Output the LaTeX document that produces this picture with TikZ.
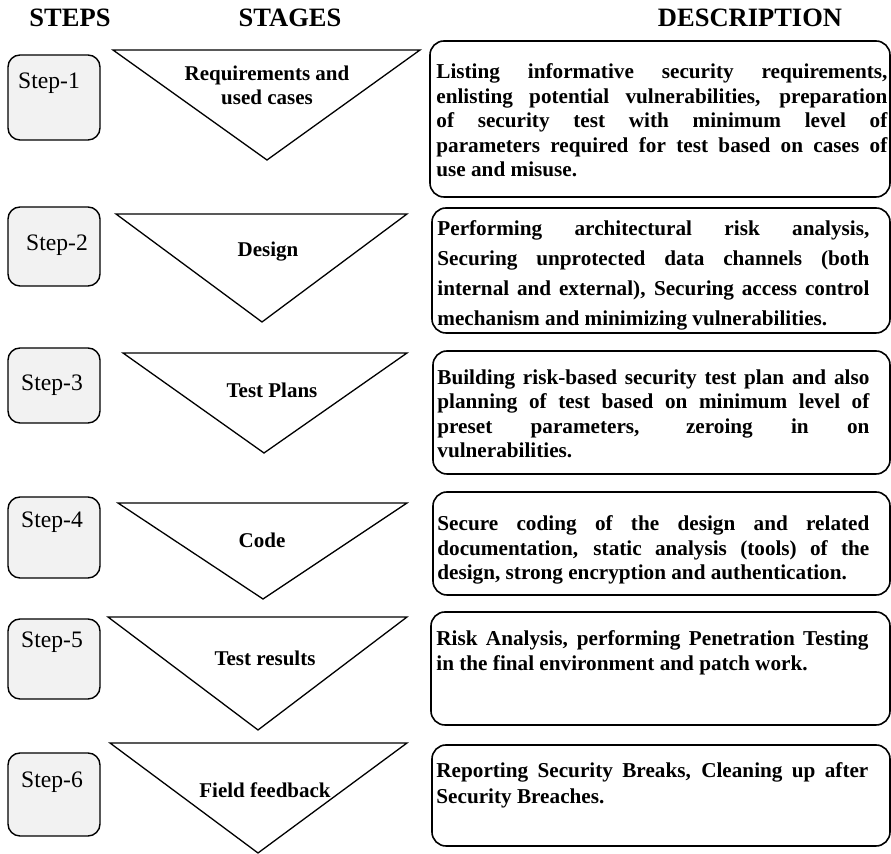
\documentclass[tikz,border=0pt]{standalone}
\usepackage{fontspec}
\setmainfont{Liberation Serif}
\definecolor{stepgray}{RGB}{242,242,242}
\hyphenpenalty=10000
\tolerance=9999
\begin{document}
\begin{tikzpicture}[x=0.5pt,y=-0.5pt,
        stepbox/.style={draw,line width=0.7pt,rounded corners=6pt,fill=stepgray},
        stagetri/.style={draw,line width=0.65pt},
        descbox/.style={draw,line width=0.8pt,rounded corners=7pt},
        heading/.style={font=\fontsize{13.25}{15}\selectfont\bfseries},
        steplabel/.style={font=\fontsize{11.8}{13}\selectfont},
        stagelabel/.style={font=\fontsize{10.5}{12}\selectfont\bfseries,align=center,inner sep=0pt},
        desctext/.style={font=\fontsize{10.6}{12.2}\selectfont\bfseries,align=justify,
            text width=216pt,inner sep=0pt,anchor=north west}]
        \useasboundingbox (0,0) rectangle (891,854);

        %% HEADINGS
        \node[heading] (hsteps) at (70,18) {STEPS};
        \node[heading] (hstages) at (290,18) {STAGES};
        \node[heading] (hdesc) at (750,18) {DESCRIPTION};

        %% STEP (1)
        % Box
        \draw[stepbox] (8,55) rectangle (100,140);
        \node[steplabel] (step1) at (49,83) {Step-1};
        % Stage
        \draw[stagetri] (113,50) -- (420,50) -- (267,160) -- cycle;
        \node[stagelabel] (stage1) at (267,85) {Requirements and\\used cases};
        % Description
        \draw[descbox] (430,41) rectangle (890,197);
        \node[desctext,text width=225.5pt] (desc1) at (436,63.5) {Listing informative security requirements,\linebreak
            enlisting potential vulnerabilities, preparation\linebreak
            of security test with minimum level of\linebreak
            parameters required for test based on cases of\linebreak
            use and misuse.};

        %% STEP (2)
        \draw[stepbox] (8,207) rectangle (100,286);
        \node[steplabel] (step2) at (57,245) {Step-2};
        % Stage
        \draw[stagetri] (116,214) -- (407,214) -- (262,322) -- cycle;
        \node[stagelabel] (stage2) at (268,252) {Design};
        % Description
        \draw[descbox] (432,208) rectangle (890,333);
        \node[desctext,font=\fontsize{10.6}{15}\selectfont\bfseries] (desc2) at (437,220.5) {Performing architectural risk analysis,\linebreak
            Securing unprotected data channels (both\linebreak
            internal and external), Securing access control\linebreak
            mechanism and minimizing vulnerabilities.};

        %% STEP (3)
        \draw[stepbox] (8,348) rectangle (100,423);
        \node[steplabel] (step3) at (52,385) {Step-3};
        % Stage
        \draw[stagetri] (123,353) -- (407,353) -- (264,453) -- cycle;
        \node[stagelabel] (stage3) at (272,390) {Test Plans};
        % Description
        \draw[descbox] (433,351) rectangle (890,474);
        \node[desctext] (desc3) at (437,369.5) {Building risk-based security test plan and also\linebreak
            planning of test based on minimum level of\linebreak
            preset parameters, zeroing in on\linebreak
            vulnerabilities.};

        %% STEP (4)
        \draw[stepbox] (8,497) rectangle (100,578);
        \node[steplabel] (step4) at (52,522) {Step-4};
        % Stage
        \draw[stagetri] (118,503) -- (407,503) -- (263,599) -- cycle;
        \node[stagelabel] (stage4) at (262,540) {Code};
        % Description
        \draw[descbox] (433,492) rectangle (890,595);
        \node[desctext] (desc4) at (437,515.5) {Secure coding of the design and related\linebreak
            documentation, static analysis (tools) of the\linebreak
            design, strong encryption and authentication.};

        %% STEP (5)
        \draw[stepbox] (8,619) rectangle (100,699);
        \node[steplabel] (step5) at (52,642) {Step-5};
        % Stage
        \draw[stagetri] (108,617) -- (407,617) -- (258,730) -- cycle;
        \node[stagelabel] (stage5) at (265,658) {Test results};
        % Description
        \draw[descbox] (431,612) rectangle (890,725);
        \node[desctext] (desc5) at (436,630.5) {Risk Analysis, performing Penetration Testing\linebreak
            in the final environment and patch work.};

        %% STEP (6)
        \draw[stepbox] (8,753) rectangle (100,836);
        \node[steplabel] (step6) at (52,782) {Step-6};
        % Stage
        \draw[stagetri] (110,743) -- (407,743) -- (258,853) -- cycle;
        \node[stagelabel] (stage6) at (265,790) {Field feedback};
        % Description
        \draw[descbox] (432,745) rectangle (890,846);
        \node[desctext,font=\fontsize{10.6}{13}\selectfont\bfseries] (desc6) at (436,762.5) {Reporting Security Breaks, Cleaning up after\linebreak
            Security Breaches.};
    \end{tikzpicture}
\end{document}
